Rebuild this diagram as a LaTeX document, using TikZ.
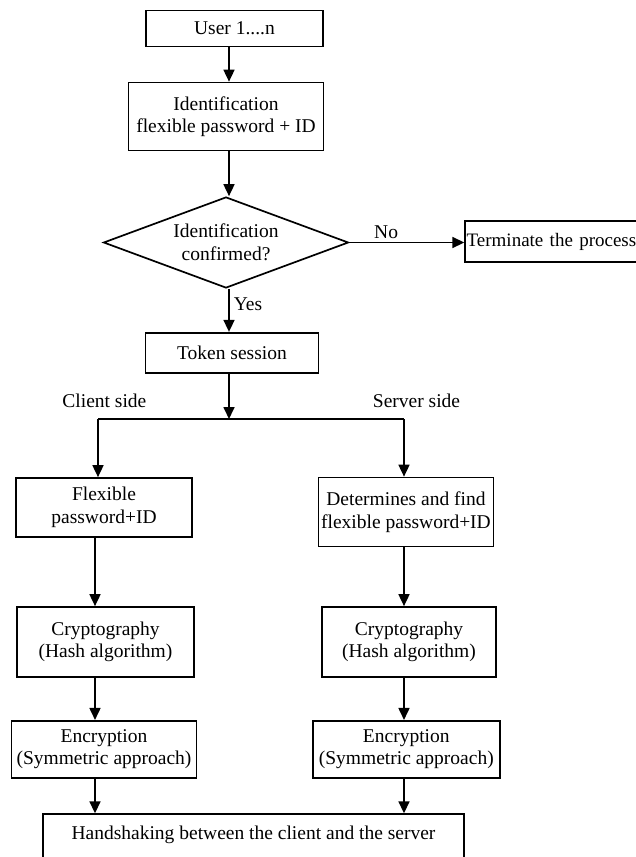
\documentclass[tikz,border=0pt]{standalone}
\usepackage{fontspec}
\setmainfont{Liberation Serif}
\usetikzlibrary{shapes.geometric}
\usetikzlibrary{arrows.meta}

\begin{document}
\begin{tikzpicture}[x=1pt, y=-1pt, font=\fontsize{19.5}{22.5}\selectfont,
  box/.style={draw, line width=1.7pt, inner sep=0pt, align=center},
  arr/.style={line width=1.7pt, -{Triangle[length=12pt,width=11pt]}}]
  \useasboundingbox (0,0) rectangle (636,857);
  \clip (0,0) rectangle (636,857);

    %----------------------------------------------------------
    % Defining coordinates
    %----------------------------------------------------------

   \coordinate (ax) at (229,0);
   \coordinate (sl) at (98,419);
   \coordinate (sr) at (404,419);
   \coordinate (cl) at (95,0);

    %----------------------------------------------------------
    % Main column
    %----------------------------------------------------------

   \node[box, minimum width=177, minimum height=36] (user) at (234.5,28.5) {User 1....n};
   \node[box, minimum width=195, minimum height=68] (ident) at (226,116.5)
     {Identification\\flexible password + ID};
   \node[box, shape=diamond, aspect=2.7, minimum width=245, minimum height=91]
     (check) at (226,242.5) {Identification\\confirmed?};
   \node[box, anchor=west, inner xsep=1.5pt, minimum height=41, text width=200, align=left,
     font=\fontsize{19}{22}\selectfont] (stop) at (464.3,241.5) {Terminate the process};
   \node[box, minimum width=173, minimum height=40] (token) at (232,352.7) {Token session};

   \draw[arr] (user.south -| ax) -- (ident.north -| ax);
   \draw[arr] (ident.south -| ax) -- (check.north -| ax);
   \draw[arr] (check.east) -- node[above, pos=.32] (no) {No} (check.east -| stop.west);
   \draw[arr] (check.south -| ax) -- node[right, pos=.35, inner xsep=4pt] (yes) {Yes} (token.north -| ax);
   \draw[arr] (token.south -| ax) -- (sl -| ax);

    %----------------------------------------------------------
    % Client and server sides
    %----------------------------------------------------------

   \node (client) at (104.4,401) {Client side};
   \node (server) at (416.5,401) {Server side};
   \draw[line width=1.7pt] (sl) -- (sr);

   \node[box, minimum width=176, minimum height=59] (flex) at (104,507.5)
     {Flexible\\password+ID};
   \node[box, minimum width=175, minimum height=69] (find) at (406,512)
     {Determines and find\\flexible password+ID};
   \node[box, minimum width=177, minimum height=70] (hashc) at (105.5,642)
     {Cryptography\\(Hash algorithm)};
   \node[box, minimum width=174, minimum height=70] (hashs) at (409,642)
     {Cryptography\\(Hash algorithm)};
   \node[box, minimum width=185, minimum height=57] (encc) at (104,749.3)
     {Encryption\\(Symmetric approach)};
   \node[box, minimum width=187, minimum height=57] (encs) at (406.3,749.3)
     {Encryption\\(Symmetric approach)};
   \node[box, anchor=north, minimum width=421.6, inner ysep=11.7pt, text height=14pt,
     text depth=40pt] (hand) at (253.5,813.3) {Handshaking between the client and the server};

   \draw[arr] (sl) -- (flex.north -| sl);
   \draw[arr] (sr) -- (find.north -| sr);
   \draw[arr] (flex.south -| cl) -- (hashc.north -| cl);
   \draw[arr] (find.south -| sr) -- (hashs.north -| sr);
   \draw[arr] (hashc.south -| cl) -- (encc.north -| cl);
   \draw[arr] (hashs.south -| sr) -- (encs.north -| sr);
   \draw[arr] (encc.south -| cl) -- (hand.north -| cl);
   \draw[arr] (encs.south -| sr) -- (hand.north -| sr);

\end{tikzpicture}
\end{document}
